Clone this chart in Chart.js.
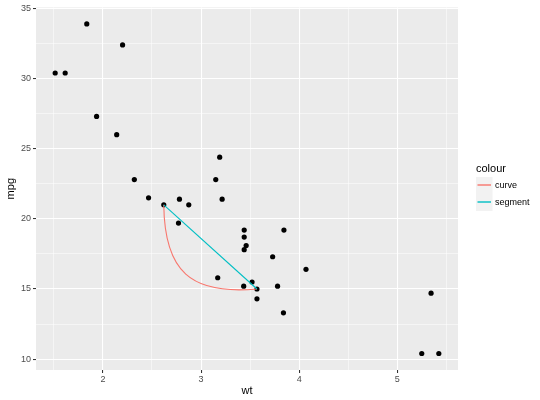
<!DOCTYPE html>
<html>
<head>
<meta charset="utf-8">
<script src="https://cdn.jsdelivr.net/npm/chart.js@4.4.0/dist/chart.umd.min.js"></script>
<style>
  body { margin: 0; background: #fff; }
</style>
</head>
<body>
<canvas id="chart" width="540" height="400"></canvas>
<script>
// mtcars: weight (1000 lbs) vs miles per gallon
const wt = [2.620, 2.875, 2.320, 3.215, 3.440, 3.460, 3.570, 3.190, 3.150, 3.440,
  3.440, 4.070, 3.730, 3.780, 5.250, 5.424, 5.345, 2.200, 1.615, 1.835,
  2.465, 3.520, 3.435, 3.840, 3.845, 1.935, 2.140, 1.513, 3.170, 2.770,
  3.570, 2.780];
const mpg = [21.0, 21.0, 22.8, 21.4, 18.7, 18.1, 14.3, 24.4, 22.8, 19.2,
  17.8, 16.4, 17.3, 15.2, 10.4, 10.4, 14.7, 32.4, 30.4, 33.9,
  21.5, 15.5, 15.2, 13.3, 19.2, 27.3, 26.0, 30.4, 15.8, 19.7,
  15.0, 21.4];

// annotation: both curve and segment go between these two points
const linkX = [2.62, 3.57];
const linkY = [21.0, 15.0];
// curve shape: control point offsets as fractions of the chord
const bend = 0.39;
const pull = 0.36;

const legendLabels = ['curve', 'segment'];
const legendColours = ['#F8766D', '#00BFC4'];

// x/y limits with ggplot's 5% expansion
const xMin = 1.31745, xMax = 5.61955;
const yMin = 9.225, yMax = 35.075;

const points = wt.map((x, i) => ({ x: x, y: mpg[i] }));
const segment = linkX.map((x, i) => ({ x: x, y: linkY[i] }));

const tickFont = { family: 'Liberation Sans, Arial, sans-serif', size: 9 };

const ggPanel = {
  id: 'ggPanel',
  beforeDraw(chart) {
    const { ctx, chartArea: a } = chart;
    ctx.save();
    ctx.fillStyle = '#EBEBEB';
    ctx.fillRect(a.left, a.top, a.right - a.left, a.bottom - a.top);
    ctx.restore();
  },
  afterDatasetDraw(chart, args) {
    if (args.index !== 1) return;
    // geom_curve, drawn right after the points layer
    const xs = chart.scales.x, ys = chart.scales.y, ctx = chart.ctx;
    const x0 = xs.getPixelForValue(linkX[0]), y0 = ys.getPixelForValue(linkY[0]);
    const x1 = xs.getPixelForValue(linkX[1]), y1 = ys.getPixelForValue(linkY[1]);
    const dx = x1 - x0, dy = y1 - y0;
    // perpendicular (bulges to the lower left)
    const nx = -dy, ny = dx;
    ctx.save();
    ctx.beginPath();
    ctx.moveTo(x0, y0);
    ctx.bezierCurveTo(
      x0 + pull * dx + bend * nx, y0 + pull * dy + bend * ny,
      x1 - pull * dx + bend * nx, y1 - pull * dy + bend * ny,
      x1, y1);
    ctx.strokeStyle = legendColours[0];
    ctx.lineWidth = 1.1;
    ctx.stroke();
    ctx.restore();
  },
  afterDraw(chart) {
    const { ctx, chartArea: a } = chart;
    ctx.save();
    ctx.fillStyle = '#000';
    ctx.textAlign = 'center';
    ctx.textBaseline = 'middle';
    ctx.font = '11px Liberation Sans, Arial, sans-serif';
    ctx.fillText('wt', (a.left + a.right) / 2, 391);
    ctx.save();
    ctx.translate(11, (a.top + a.bottom) / 2);
    ctx.rotate(-Math.PI / 2);
    ctx.fillText('mpg', 0, 0);
    ctx.restore();

    // legend
    ctx.textAlign = 'left';
    ctx.textBaseline = 'alphabetic';
    ctx.fillText('colour', 476, 172);
    ctx.font = '9px Liberation Sans, Arial, sans-serif';
    ctx.textBaseline = 'middle';
    legendLabels.forEach((lab, i) => {
      const top = 177 + i * 17;
      ctx.fillStyle = '#F2F2F2';
      ctx.fillRect(476, top, 16.5, 17);
      ctx.strokeStyle = legendColours[i];
      ctx.lineWidth = 1.4;
      ctx.beginPath();
      ctx.moveTo(477.5, top + 8);
      ctx.lineTo(491, top + 8);
      ctx.stroke();
      ctx.fillStyle = '#000';
      ctx.fillText(lab, 495, top + 8.5);
    });
    ctx.restore();
  }
};

function gridStyle(isMajor) {
  return {
    color: '#FFFFFF',
    lineWidth: c => (c.tick && isMajor(c.tick.value) ? 1.07 : 0.53),
    tickColor: c => (c.tick && isMajor(c.tick.value) ? '#333333' : 'rgba(0,0,0,0)'),
    tickWidth: 1.07,
    tickLength: 3,
    drawTicks: true
  };
}

const isMajorX = v => Math.abs(v - Math.round(v)) < 1e-6;
const isMajorY = v => Math.abs(v / 5 - Math.round(v / 5)) < 1e-6;

new Chart(document.getElementById('chart'), {
  type: 'scatter',
  data: {
    datasets: [
      {
        type: 'line',
        label: 'segment',
        data: segment,
        borderColor: legendColours[1],
        borderWidth: 1.1,
        pointRadius: 0,
        fill: false
      },
      {
        type: 'scatter',
        label: 'points',
        data: points,
        backgroundColor: '#000',
        borderWidth: 0,
        pointRadius: 2.6
      }
    ]
  },
  options: {
    responsive: false,
    devicePixelRatio: 1,
    animation: false,
    layout: { padding: { left: 0, top: 5, right: 82, bottom: 0 } },
    plugins: { legend: { display: false }, tooltip: { enabled: false } },
    scales: {
      x: {
        type: 'linear',
        min: xMin,
        max: xMax,
        border: { display: false },
        grid: gridStyle(isMajorX),
        ticks: {
          stepSize: 0.5,
          includeBounds: false,
          autoSkip: false,
          maxRotation: 0,
          padding: 1,
          color: '#4D4D4D',
          font: tickFont,
          callback: v => (isMajorX(v) ? String(Math.round(v)) : '')
        },
        afterFit: s => { s.height = 30; }
      },
      y: {
        type: 'linear',
        min: yMin,
        max: yMax,
        border: { display: false },
        grid: gridStyle(isMajorY),
        ticks: {
          stepSize: 2.5,
          includeBounds: false,
          autoSkip: false,
          padding: 2,
          color: '#4D4D4D',
          font: tickFont,
          callback: v => (isMajorY(v) ? String(Math.round(v)) : '')
        },
        afterFit: s => { s.width = 36; }
      }
    }
  },
  plugins: [ggPanel]
});
</script>
</body>
</html>
